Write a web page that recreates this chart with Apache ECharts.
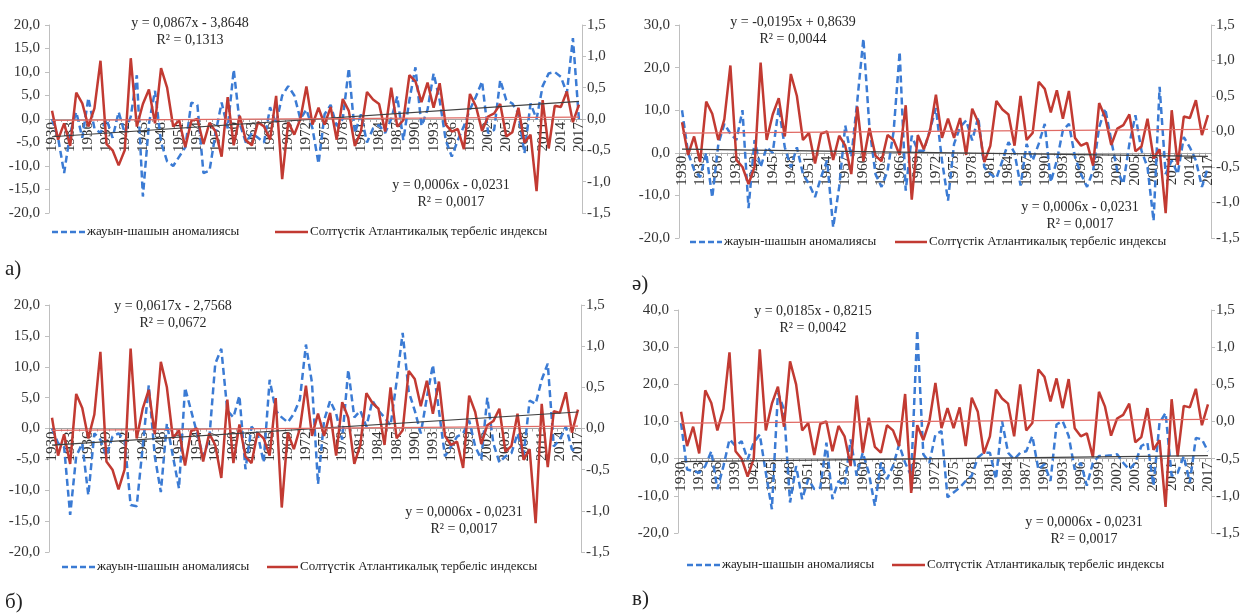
<!DOCTYPE html>
<html>
<head>
<meta charset="utf-8">
<script src="https://cdn.jsdelivr.net/npm/echarts@6/dist/echarts.min.js"></script>
<style>
  html, body { margin: 0; padding: 0; background: #fff; }
  #chart { width: 1243px; height: 615px; }
</style>
</head>
<body>
<div id="chart"></div>
<script>
// years on the category axis
const years = [
  '1930','1931','1932','1933','1934','1935','1936','1937','1938','1939',
  '1940','1941','1942','1943','1944','1945','1946','1947','1948','1949',
  '1950','1951','1952','1953','1954','1955','1956','1957','1958','1959',
  '1960','1961','1962','1963','1964','1965','1966','1967','1968','1969',
  '1970','1971','1972','1973','1974','1975','1976','1977','1978','1979',
  '1980','1981','1982','1983','1984','1985','1986','1987','1988','1989',
  '1990','1991','1992','1993','1994','1995','1996','1997','1998','1999',
  '2000','2001','2002','2003','2004','2005','2006','2007','2008','2009',
  '2010','2011','2012','2013','2014','2015','2016','2017'
];

// North Atlantic Oscillation index (same in every panel, right axis)
const naoIndex = [
  0.13, -0.33, -0.07, -0.43, 0.42, 0.25, -0.12, 0.17, 0.93, -0.40,
  -0.50, -0.74, -0.50, 0.97, -0.12, 0.24, 0.47, -0.07, 0.81, 0.50,
  -0.12, -0.02, -0.45, -0.03, 0.00, -0.40, -0.06, -0.20, -0.60, 0.35,
  -0.42, 0.05, -0.34, -0.42, -0.05, -0.12, -0.33, 0.37, -0.96, -0.05,
  -0.25, 0.00, 0.52, -0.09, 0.18, -0.09, 0.19, -0.33, 0.32, 0.13,
  -0.43, -0.20, 0.43, 0.31, 0.24, -0.20, 0.50, -0.12, -0.02, 0.70,
  0.60, 0.27, 0.58, 0.18, 0.57, -0.09, -0.20, -0.16, -0.48, 0.40,
  0.20, -0.19, 0.04, 0.09, 0.24, -0.28, -0.21, 0.18, -0.38, -0.25,
  -1.15, 0.30, -0.47, 0.21, 0.19, 0.44, -0.05, 0.23
];

// precipitation anomalies, panel а)
const precipA = [
  0, -4, -11.5, -3, 1.5, -4, 4.5, -2, -3, 0,
  -4, 1.5, -3, 0.5, 9.3, -16.5, -1, 6, -5, -9,
  -10, -8, -6, 3.5, 3, -11.5, -11, -3, 3.5, -2,
  10.5, -1, -5, -3, -4, -5, 2.5, -1, 5, 7,
  5, 0, 2, -2, -9.5, 1, 3, -1.5, 0, 10.8,
  -3, 1, -5, -2, -1.3, -3, 0, 4.8, -4.5, 4,
  11, -1.5, 2, 9.7, 4, -4.5, -8, -4.5, -1.5, 2,
  4.8, 8, -3, -2.3, 8.3, 4, 3.3, 1.2, -7.3, 3.3,
  0, 7, 9.7, 10, 9, 5.5, 17.2, -0.2
];

// precipitation anomalies, panel ә)
const precipAe = [
  10, 0, -4, -5.7, 0, -10.5, 2, 6.8, 4.5, 3,
  10, -13, 3, -3.4, 1.3, 0, 10.7, 1.3, -3.4, 1.3,
  -5, -7.3, -10.4, -5.7, -1.8, -17.5, -8, 6.4, -1, 12.3,
  26.8, 6, -5, -8, -4.2, 5, 23.7, -8.9, 4, 0.5,
  0.5, 5.3, 10.5, -1.8, -11.2, 2.1, 6, 7.6, 2.9, 8.4,
  -3.4, -5, -6, -1.8, 2.5, 0, -7.7, 2.1, -1.8, 2.1,
  6.8, -6.9, -1.8, 5.3, 6.8, -1, -5, -8, -4.2, 6,
  10.4, 2.9, -4.2, -7.3, 2.1, 8.8, 0.5, -3.4, -16, 15.5,
  -5, -1.8, -5, 3.7, 1.3, -1.8, -8, -3.4
];

// precipitation anomalies, panel б)
const precipB = [
  0, -2.4, -3, -14, -4.5, -2.4, -10.8, -0.8, -1.8, -4.5,
  -1.3, -0.8, -1.8, -12.4, -12.6, -3, 7, -4.5, -10.3, 0.8,
  -4.5, -9.7, 6.6, 2.9, -0.8, -4.5, -1.8, 10.5, 12.9, 2.9,
  1.8, 5.3, -6.6, 0.3, -0.8, -5.5, 7.9, 2.9, 1.8, 1,
  2.4, 4.7, 13.6, 7.4, -9, 1.3, 4.5, 2.4, -1.8, 9.5,
  1.8, 2.9, 0.3, 4.5, 2.9, 1.8, 0.5, 7.6, 15.5, 6,
  2.9, -0.8, 5, 10.3, 2.9, -4.5, -2.9, -1.3, -0.8, 1.3,
  -2.9, -5, 5, -2.4, -5.5, -4.5, -4, -0.8, -4.5, 4.5,
  4, 7.9, 10.5, -2.9, -1.8, 0.3, -3.4, -3.7
];

// precipitation anomalies, panel в)
const precipV = [
  9.6, -2.9, -3.3, -3.8, -2, 2, -8.2, -2, 5.2, 3.4,
  4.7, -0.2, 4.3, 6.5, -3.8, -13.6, 17.7, 13.2, -11.8, -2,
  -10.9, -5.5, -8.2, -7.8, 4.3, -10.9, -6, -7.3, 5.2, -4.6,
  1.6, -3.8, -12.7, -1.1, -5.5, -2, 3.8, -1.1, -4.6, 34.6,
  1.2, -1.1, 6.5, 7.4, -10.4, -9.1, -7.8, -6, -4.6, 0.3,
  1.6, 1.6, -5.5, 10.1, 1.6, -0.2, 1.6, 2, 6.1, -2.9,
  -1.5, -6, 9.2, 10.1, 6.1, -2.9, -1.1, -7.3, -1.1, 0.7,
  0.7, 0.9, 1.2, -1.1, -2.9, -1.1, 3.4, 4.3, -7.3, 9.6,
  12.3, -4.6, -3.8, 0.7, -6.4, 5.6, 5.2, 2
];

// linear trend coefficients [slope, intercept] as printed on the chart
const trendA = [0.0867, -3.8648];
const trendAe = [-0.0195, 0.8639];
const trendB = [0.0617, -2.7568];
const trendV = [0.0185, -0.8215];
const trendNao = [0.0006, -0.0231];

// left axis ranges [min, max, interval]
const leftAxisA = [-20, 20, 5];
const leftAxisAe = [-20, 30, 10];
const leftAxisB = [-20, 20, 5];
const leftAxisV = [-20, 40, 10];
const rightAxis = [-1.5, 1.5, 0.5];

const eqTexts = [
  'y = 0,0867x - 3,8648\nR² = 0,1313',
  'y = -0,0195x + 0,8639\nR² = 0,0044',
  'y = 0,0617x - 2,7568\nR² = 0,0672',
  'y = 0,0185x - 0,8215\nR² = 0,0042'
];
const eqNaoText = 'y = 0,0006x - 0,0231\nR² = 0,0017';
const panelLabels = ['а)', 'ә)', 'б)', 'в)'];
const nameRain = 'жауын-шашын аномалиясы';
const nameNao = 'Солтүстік Атлантикалық тербеліс индексы';

const SERIF = '"Liberation Serif", "DejaVu Serif", serif';
const BLUE = '#3b7bd4';
const RED = '#c23a32';

// legend: [blueLineStart, blueLineEnd, redLineStart, redLineEnd, y]
const panels = [
  { grid: { left: 49, top: 25, width: 533, height: 188 }, rain: precipA, trend: trendA, axis: leftAxisA,
    eq1: [190, 15], eq2: [451, 177], label: [5, 259], leg: [52, 85, 275, 308, 232] },
  { grid: { left: 679, top: 25, width: 532, height: 213 }, rain: precipAe, trend: trendAe, axis: leftAxisAe,
    eq1: [793, 14], eq2: [1080, 199], label: [632, 274], leg: [690, 722, 895, 927, 242] },
  { grid: { left: 49, top: 305, width: 532, height: 247 }, rain: precipB, trend: trendB, axis: leftAxisB,
    eq1: [173, 298], eq2: [464, 504], label: [5, 592], leg: [62, 95, 267, 298, 567] },
  { grid: { left: 678, top: 310, width: 533, height: 223 }, rain: precipV, trend: trendV, axis: leftAxisV,
    eq1: [813, 303], eq2: [1084, 514], label: [632, 589], leg: [687, 720, 892, 925, 565] }
];

const fmt = v => v.toFixed(1).replace('.', ',');
const n = years.length;
const trendLine = c => [[years[0], c[0] * 1 + c[1]], [years[n - 1], c[0] * n + c[1]]];

const axisGray = '#bfbfbf';
const grids = [], xAxes = [], yAxes = [], series = [], graphics = [];

panels.forEach((p, i) => {
  grids.push(Object.assign({ containLabel: false }, p.grid));
  // category axis sits at zero of the left value axis
  const zeroOffset = -p.grid.height * (0 - p.axis[0]) / (p.axis[1] - p.axis[0]);
  xAxes.push({
    type: 'category', gridIndex: i, data: years, boundaryGap: true,
    position: 'bottom', offset: zeroOffset,
    axisLine: { onZero: false, lineStyle: { color: '#a6a6a6', width: 1 } },
    axisTick: { show: true, interval: 0, length: 3, lineStyle: { color: '#a6a6a6' } },
    axisLabel: { interval: 2, rotate: 90, margin: 3, fontFamily: SERIF, fontSize: 15, color: '#333' },
    splitLine: { show: false }
  });
  yAxes.push({
    type: 'value', gridIndex: i, position: 'left',
    min: p.axis[0], max: p.axis[1], interval: p.axis[2],
    axisLine: { show: true, onZero: false, lineStyle: { color: axisGray } },
    axisTick: { show: true, length: 4, lineStyle: { color: axisGray } },
    splitLine: { show: false },
    axisLabel: { formatter: fmt, margin: 9, fontFamily: SERIF, fontSize: 15, color: '#333' }
  });
  yAxes.push({
    type: 'value', gridIndex: i, position: 'right',
    min: rightAxis[0], max: rightAxis[1], interval: rightAxis[2],
    axisLine: { show: true, onZero: false, lineStyle: { color: axisGray } },
    axisTick: { show: true, length: 4, lineStyle: { color: axisGray } },
    splitLine: { show: false },
    axisLabel: { formatter: fmt, margin: 5, fontFamily: SERIF, fontSize: 15, color: '#333' }
  });

  series.push({
    name: nameRain, type: 'line', xAxisIndex: i, yAxisIndex: 2 * i, data: p.rain,
    symbol: 'none', z: 2, lineStyle: { color: BLUE, width: 2.5, type: [7, 4] }
  });
  series.push({
    name: nameNao, type: 'line', xAxisIndex: i, yAxisIndex: 2 * i + 1, data: naoIndex,
    symbol: 'none', z: 3, lineStyle: { color: RED, width: 2.5 }
  });
  series.push({
    type: 'line', xAxisIndex: i, yAxisIndex: 2 * i, data: trendLine(p.trend),
    symbol: 'none', z: 4, silent: true, lineStyle: { color: '#404040', width: 1.2 }
  });
  series.push({
    type: 'line', xAxisIndex: i, yAxisIndex: 2 * i + 1, data: trendLine(trendNao),
    symbol: 'none', z: 4, silent: true, lineStyle: { color: '#e06a64', width: 1.2 }
  });

  // legend drawn as line samples plus text
  const [b1, b2, r1, r2, ly] = p.leg;
  const legText = (x, text) => ({ type: 'text', x, y: ly, silent: true,
    style: { text, x: 0, y: 0, verticalAlign: 'middle', fontFamily: SERIF, fontSize: 13, fill: '#222' } });
  graphics.push({ type: 'line', silent: true, shape: { x1: b1, y1: ly, x2: b2, y2: ly },
    style: { stroke: BLUE, lineWidth: 2.5, lineDash: [6, 3] } });
  graphics.push(legText(b2 + 2, nameRain));
  graphics.push({ type: 'line', silent: true, shape: { x1: r1, y1: ly, x2: r2, y2: ly },
    style: { stroke: RED, lineWidth: 2.5 } });
  graphics.push(legText(r2 + 2, nameNao));

  const eqStyle = (text) => ({ text, x: 0, y: 0, align: 'center', verticalAlign: 'top',
    fontFamily: SERIF, fontSize: 14, lineHeight: 17, fill: '#262626' });
  graphics.push({ type: 'text', x: p.eq1[0], y: p.eq1[1], silent: true, style: eqStyle(eqTexts[i]) });
  graphics.push({ type: 'text', x: p.eq2[0], y: p.eq2[1], silent: true, style: eqStyle(eqNaoText) });
  graphics.push({ type: 'text', x: p.label[0], y: p.label[1], silent: true,
    style: { text: panelLabels[i], x: 0, y: 0, fontFamily: SERIF, fontSize: 21, fill: '#222' } });
});

const chart = echarts.init(document.getElementById('chart'), null, { renderer: 'canvas' });
chart.setOption({
  animation: false,
  backgroundColor: '#fff',
  grid: grids,
  xAxis: xAxes,
  yAxis: yAxes,
  series: series,
  graphic: graphics
});
</script>
</body>
</html>
